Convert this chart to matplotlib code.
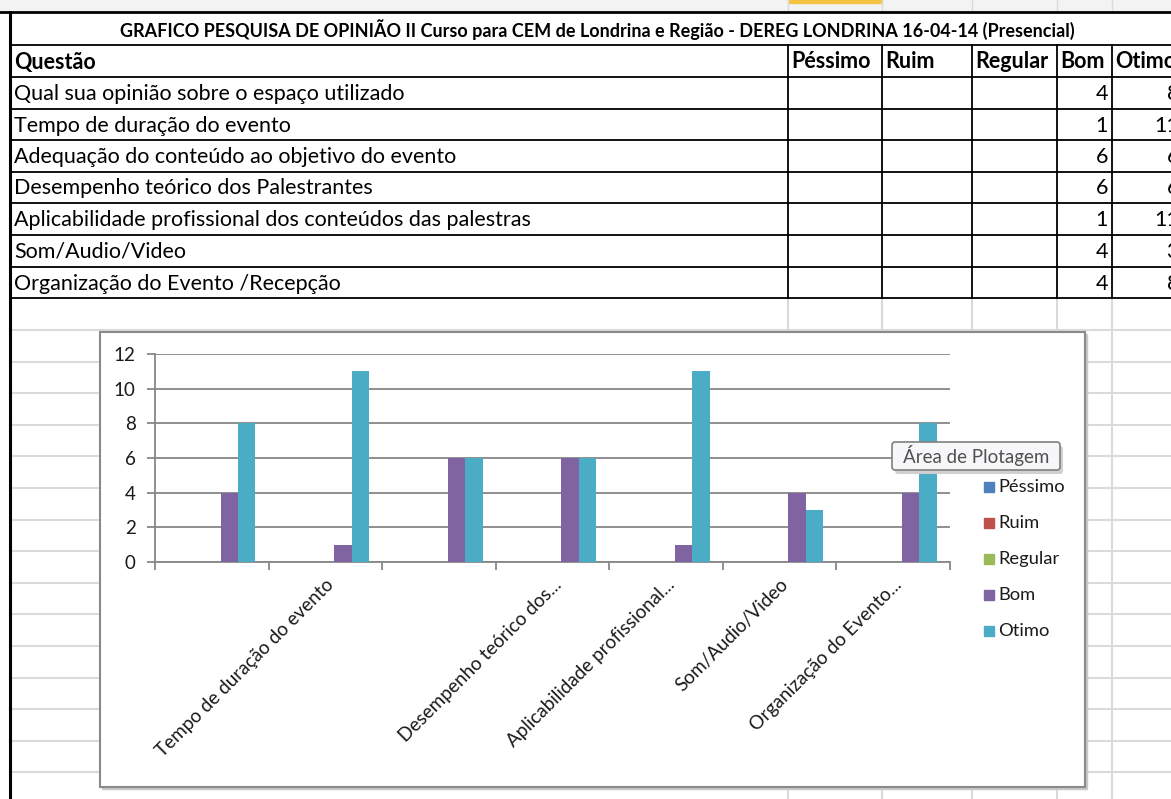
import matplotlib
matplotlib.use("Agg")
import matplotlib.pyplot as plt
import numpy as np
from matplotlib.patches import Rectangle, FancyBboxPatch

plt.rcParams['font.family'] = ['Lato', 'DejaVu Sans']

# dados da planilha
titulo = "GRAFICO PESQUISA DE OPINIÃO II Curso para CEM de Londrina e Região - DEREG LONDRINA 16-04-14 (Presencial)"
colunas = ["Péssimo", "Ruim", "Regular", "Bom", "Otimo"]
questoes = [
    "Qual sua opinião sobre o espaço utilizado",
    "Tempo de duração do evento",
    "Adequação do conteúdo ao objetivo do evento",
    "Desempenho teórico dos Palestrantes",
    "Aplicabilidade profissional dos conteúdos das palestras",
    "Som/Audio/Video",
    "Organização do Evento /Recepção",
]
pessimo = [0, 0, 0, 0, 0, 0, 0]
ruim = [0, 0, 0, 0, 0, 0, 0]
regular = [0, 0, 0, 0, 0, 0, 0]
bom = [4, 1, 6, 6, 1, 4, 4]
otimo = [8, 11, 6, 6, 11, 3, 8]
# rotulos do eixo x (o Excel esconde alguns)
rotulos_x = ["", "Tempo de duração do evento", "", "Desempenho teórico dos...",
             "Aplicabilidade profissional...", "Som/Audio/Video", "Organização do Evento..."]
cores = ["#4F81BD", "#C0504D", "#9BBB59", "#8064A2", "#4BACC6"]

W, H = 1171, 799
fig = plt.figure(figsize=(W / 100, H / 100), dpi=100)


def eixo_pixel(z):
    # eixo que cobre a figura toda, em pixels
    a = fig.add_axes([0, 0, 1, 1], zorder=z)
    a.set_xlim(0, W)
    a.set_ylim(H, 0)
    a.axis("off")
    a.patch.set_alpha(0)
    return a


bg = eixo_pixel(0)

col_x = [788, 882, 972, 1057, 1112]
linhas_y = [45, 77, 109, 140, 172, 203, 235, 267, 298]
cinza_grade = "#dadada"

# topo (cabecalho de colunas do excel)
bg.add_patch(Rectangle((0, 0), W, 11, color="#f3f3f3", zorder=1))
bg.add_patch(Rectangle((788, 0), 94, 3, color="#f5c342", zorder=2))
for x in col_x:
    bg.plot([x, x], [0, 11], color=cinza_grade, lw=1, zorder=2)

# grade clara abaixo da tabela
for y in np.arange(330, H, 31.6):
    bg.plot([10, W], [y, y], color=cinza_grade, lw=1.5, zorder=1)
for x in col_x:
    bg.plot([x, x], [298, H], color=cinza_grade, lw=1.5, zorder=1)

# bordas da tabela
bg.plot([0, W], [12, 12], color="black", lw=2, zorder=3)
bg.plot([10, 10], [12, H], color="black", lw=2.2, zorder=3)
for y in linhas_y:
    bg.plot([10, W], [y, y], color="black", lw=1.3, zorder=3)
for x in col_x:
    bg.plot([x, x], [45, 298], color="black", lw=1.3, zorder=3)

bg.text(597, 30, titulo, ha="center", va="center", fontsize=13, fontweight="bold", zorder=4)
bg.text(14, 62, "Questão", ha="left", va="center", fontsize=15.5, fontweight="bold", zorder=4)
for x, nome in zip(col_x, colunas):
    bg.text(x + 3, 62, nome, ha="left", va="center", fontsize=15.5, fontweight="bold", zorder=4)
for i, q in enumerate(questoes):
    yc = (linhas_y[i + 1] + linhas_y[i + 2]) / 2 + 1
    bg.text(14, yc, q, ha="left", va="center", fontsize=15.5, zorder=4)
    bg.text(1108, yc, str(bom[i]), ha="right", va="center", fontsize=15.5, zorder=4)
    bg.text(1179, yc, str(otimo[i]), ha="right", va="center", fontsize=15.5, zorder=4)

# caixa do grafico
bg.add_patch(Rectangle((102, 334), 985, 455, color="#c8c8c8", zorder=5))
bg.add_patch(Rectangle((100, 332), 985, 455, facecolor="white", edgecolor="#8a8a8a", lw=1.5, zorder=6))

# area de plotagem
ax = fig.add_axes([155 / W, (H - 562) / H, 795 / W, 208 / H], zorder=10)
ax.patch.set_alpha(0)
series = [pessimo, ruim, regular, bom, otimo]
n = len(series)
larg = 1 / (n + 1.5)
x = np.arange(len(questoes))
for k, (vals, cor) in enumerate(zip(series, cores)):
    ax.bar(x + (k - (n - 1) / 2) * larg, vals, width=larg, color=cor, zorder=3)

ax.set_xlim(-0.5, len(questoes) - 0.5)
ax.set_ylim(0, 12)
ax.set_yticks(np.arange(0, 13, 2))
ax.yaxis.grid(True, color="#878787", lw=1.3)
ax.set_axisbelow(True)
ax.set_xticks(np.arange(-0.5, len(questoes)))
ax.set_xticklabels([])
ax.set_xticks(x, minor=True)
ax.set_xticklabels(rotulos_x, minor=True, rotation=45, ha="right", va="top",
                   rotation_mode="anchor", fontsize=13.6, color="#1a1a1a")
ax.tick_params(axis="x", which="minor", length=0, pad=10)
ax.tick_params(axis="x", which="major", length=6, color="#878787", width=1.3)
ax.tick_params(axis="y", length=6, color="#878787", width=1.3, labelsize=13.5, pad=8,
               labelcolor="#1a1a1a")
for s in ["top", "right"]:
    ax.spines[s].set_visible(False)
for s in ["left", "bottom"]:
    ax.spines[s].set_color("#878787")
    ax.spines[s].set_linewidth(1.3)

top = eixo_pixel(20)

# legenda
for k, (nome, cor) in enumerate(zip(colunas, cores)):
    yc = 487 + 36 * k
    top.add_patch(Rectangle((984, yc - 5), 10, 10, color=cor))
    top.text(998, yc, nome, ha="left", va="center", fontsize=13.2, color="#1a1a1a")

# dica "Área de Plotagem"
top.add_patch(FancyBboxPatch((895, 446), 168, 28, boxstyle="round,pad=0,rounding_size=3",
                             facecolor="#d0d0d0", edgecolor="none", zorder=2))
top.add_patch(FancyBboxPatch((892, 442), 168, 28, boxstyle="round,pad=0,rounding_size=3",
                             facecolor="#f7f7fa", edgecolor="#7f7f7f", lw=1.2, zorder=3))
top.text(976, 456, "Área de Plotagem", ha="center", va="center", fontsize=13.5,
         color="#505050", zorder=4)

fig.savefig("out.png", dpi=100)
